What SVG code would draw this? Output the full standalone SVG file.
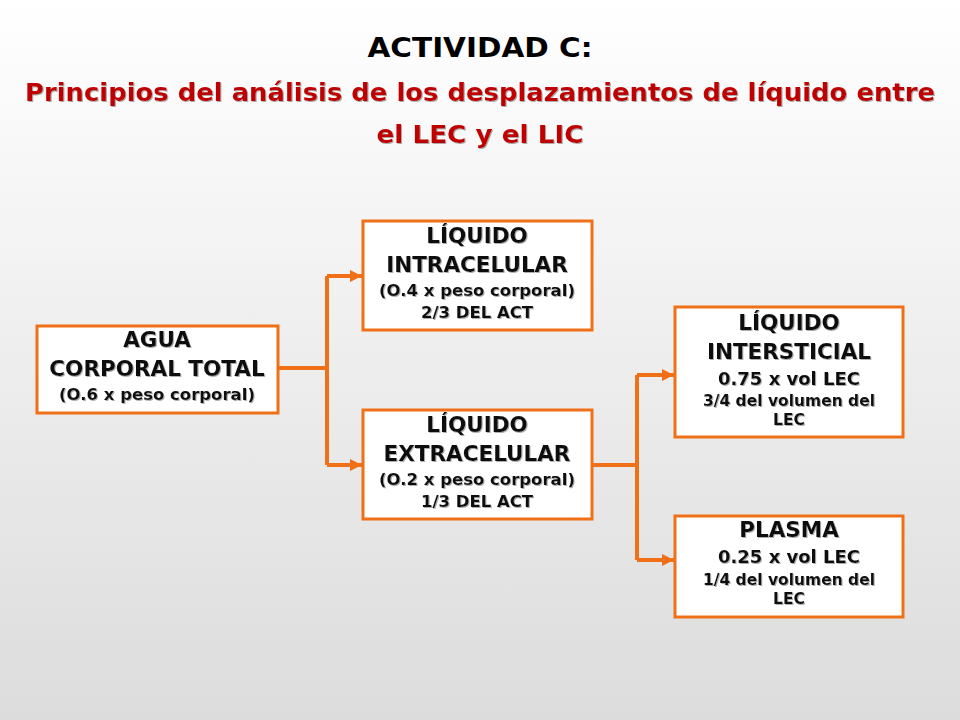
<svg xmlns="http://www.w3.org/2000/svg" width="960" height="720" viewBox="0 0 960 720">
<defs>
<linearGradient id="bg" x1="0" y1="0" x2="0" y2="1"><stop offset="0" stop-color="#ffffff"/><stop offset="1" stop-color="#dcdcdc"/></linearGradient>
<filter id="sh" x="-5%" y="-5%" width="110%" height="120%"><feDropShadow dx="1" dy="1" stdDeviation="0.5" flood-color="#999" flood-opacity="0.8"/></filter>
<marker id="ar" markerWidth="12" markerHeight="12" refX="12" refY="6" orient="auto" markerUnits="userSpaceOnUse"><path d="M0,0 L12,6 L0,12 Z" fill="#f07018"/></marker>
<style>
.box{fill:#fff;stroke:#f07018;stroke-width:3}
.t{font-family:"DejaVu Sans",Verdana,sans-serif;font-weight:bold;text-anchor:middle;fill:#111;filter:url(#sh)}
.b{font-size:21.5px}.s{font-size:16.5px}.m{font-size:18px}.n{font-size:15.5px}
.c{fill:none;stroke:#f07018;stroke-width:4}
.ttl{font-family:"DejaVu Sans",Verdana,sans-serif;font-weight:bold;text-anchor:middle}
</style>
</defs>
<rect width="960" height="720" fill="url(#bg)"/>
<text class="ttl" x="480" y="57" font-size="26" fill="#000" textLength="225" lengthAdjust="spacingAndGlyphs">ACTIVIDAD C:</text>
<text class="ttl" x="480" y="101" font-size="25" fill="#c00000" filter="url(#sh)" textLength="910" lengthAdjust="spacingAndGlyphs">Principios del análisis de los desplazamientos de líquido entre</text>
<text class="ttl" x="480" y="143" font-size="25" fill="#c00000" filter="url(#sh)" textLength="207" lengthAdjust="spacingAndGlyphs">el LEC y el LIC</text>
<g id="connectors">
<path class="c" d="M279,368 H327 M327,276 V465"/>
<path class="c" d="M327,276 H362" marker-end="url(#ar)"/>
<path class="c" d="M327,465 H362" marker-end="url(#ar)"/>
<path class="c" d="M592,465 H637 M637,375 V560"/>
<path class="c" d="M637,375 H674" marker-end="url(#ar)"/>
<path class="c" d="M637,560 H674" marker-end="url(#ar)"/>
</g>
<g id="agua"><rect class="box" x="37" y="326" width="241" height="87"/>
<text class="t b" x="157" y="347">AGUA</text><text class="t b" x="157" y="376">CORPORAL TOTAL</text><text class="t s" x="157" y="400">(O.6 x peso corporal)</text></g>
<g id="lic"><rect class="box" x="363" y="221" width="229" height="109"/>
<text class="t b" x="477" y="243">LÍQUIDO</text><text class="t b" x="477" y="272">INTRACELULAR</text><text class="t s" x="477" y="296">(O.4 x peso corporal)</text><text class="t s" x="477" y="318">2/3 DEL ACT</text></g>
<g id="lec"><rect class="box" x="363" y="410" width="229" height="109"/>
<text class="t b" x="477" y="432">LÍQUIDO</text><text class="t b" x="477" y="461">EXTRACELULAR</text><text class="t s" x="477" y="485">(O.2 x peso corporal)</text><text class="t s" x="477" y="507">1/3 DEL ACT</text></g>
<g id="intersticial"><rect class="box" x="675" y="307" width="228" height="130"/>
<text class="t b" x="789" y="330">LÍQUIDO</text><text class="t b" x="789" y="359">INTERSTICIAL</text><text class="t m" x="789" y="385">0.75 x vol LEC</text><text class="t n" x="789" y="406">3/4 del volumen del</text><text class="t n" x="789" y="425">LEC</text></g>
<g id="plasma"><rect class="box" x="675" y="516" width="228" height="101"/>
<text class="t b" x="789" y="537">PLASMA</text><text class="t m" x="789" y="563">0.25 x vol LEC</text><text class="t n" x="789" y="585">1/4 del volumen del</text><text class="t n" x="789" y="604">LEC</text></g>
</svg>
